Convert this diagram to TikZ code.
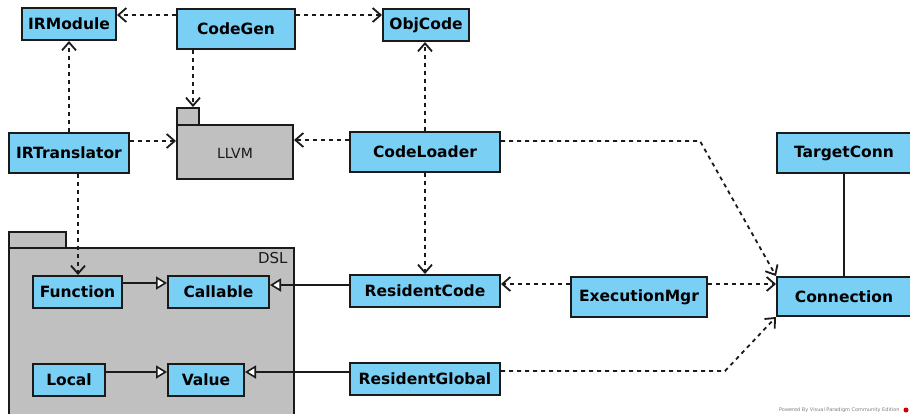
\documentclass[tikz,border=0pt]{standalone}
\usepackage{fontspec}
\setmainfont{DejaVu Sans}
\usetikzlibrary{arrows.meta}
\definecolor{cls}{RGB}{122,207,245}
\definecolor{pkg}{RGB}{192,192,192}
\definecolor{ink}{RGB}{26,26,26}
\tikzset{
  cbox/.style={draw=ink, line width=2pt, fill=cls, inner sep=0pt,
    font=\fontsize{15.5}{18}\selectfont\bfseries, text=black},
  pkgshape/.style={draw=ink, line width=2pt, fill=pkg, inner sep=0pt},
  dep/.style={draw=ink, line width=1.8pt, dash pattern=on 4pt off 4pt,
    -{Straight Barb[length=8pt,width=14pt,line width=1.8pt]}},
  gen/.style={draw=ink, line width=1.8pt,
    -{Triangle[open,fill=white,length=11pt,width=13pt,line width=1.6pt]}},
  assoc/.style={draw=ink, line width=1.8pt}
}
\begin{document}
\begin{tikzpicture}[x=1pt,y=-1pt]
\useasboundingbox[fill=white] (0,0) rectangle (910,413);
% packages
\node[pkgshape, minimum width=22pt, minimum height=17pt] (llvmtab) at (188,116.5) {};
\node[pkgshape, minimum width=116pt, minimum height=54pt] (llvm) at (235,152) {};
\node[font=\fontsize{14}{16}\selectfont, text=ink] (llvmlbl) at (235,153) {LLVM};
\node[pkgshape, minimum width=57pt, minimum height=16pt] (dsltab) at (37.5,240) {};
\node[pkgshape, minimum width=285pt, minimum height=170pt] (dsl) at (151.5,333) {};
\node[font=\fontsize{15}{17}\selectfont, text=ink, anchor=north east] (dsllbl) at (291,249) {DSL};
% classes
\node[cbox, minimum width=94pt, minimum height=32pt] (irm) at (69,24) {IRModule};
\node[cbox, minimum width=118pt, minimum height=40pt] (cg) at (236,29) {CodeGen};
\node[cbox, minimum width=86pt, minimum height=32pt] (obj) at (426,25) {ObjCode};
\node[cbox, minimum width=120pt, minimum height=40pt] (irt) at (69,153) {IRTranslator};
\node[cbox, minimum width=150pt, minimum height=40pt] (cl) at (425,152) {CodeLoader};
\node[cbox, minimum width=134pt, minimum height=40pt] (tc) at (844,153) {TargetConn};
\node[cbox, minimum width=134pt, minimum height=39pt] (conn) at (844,296.5) {Connection};
\node[cbox, minimum width=136pt, minimum height=40pt] (em) at (639,297) {ExecutionMgr};
\node[cbox, minimum width=150pt, minimum height=32pt] (rc) at (425,291) {ResidentCode};
\node[cbox, minimum width=150pt, minimum height=32pt] (rg) at (425,379) {ResidentGlobal};
\node[cbox, minimum width=89pt, minimum height=32pt] (fn) at (77.5,292) {Function};
\node[cbox, minimum width=101pt, minimum height=32pt] (call) at (218.5,292) {Callable};
\node[cbox, minimum width=72pt, minimum height=32pt] (loc) at (69,380) {Local};
\node[cbox, minimum width=76pt, minimum height=32pt] (val) at (206,380) {Value};
% bend points
\coordinate (b1) at (700,141);
\coordinate (b2) at (725,371);
% dependencies
\draw[dep] ([yshift=14pt]cg.west) -- ([yshift=9pt]irm.east);
\draw[dep] ([yshift=14pt]cg.east) -- ([yshift=10pt]obj.west);
\draw[dep] ([xshift=-43pt]cg.south) -- ([xshift=5pt]llvmtab.north);
\draw[dep] (irt.north) -- (irm.south);
\draw[dep] ([yshift=12pt]irt.east) -- ([yshift=11pt]llvm.west);
\draw[dep] ([yshift=12pt]cl.west) -- ([yshift=12pt]llvm.east);
\draw[dep] (cl.north) -- ([xshift=-1pt]obj.south);
\draw[dep] (cl.south) -- (rc.north);
\draw[dep] ([xshift=9pt]irt.south) -- ([xshift=0.5pt]fn.north);
\draw[dep] ([yshift=11pt]cl.east) -- (b1) -- (conn.north west);
\draw[dep] ([yshift=13pt]em.west) -- ([yshift=7pt]rc.east);
\draw[dep] ([yshift=13pt]em.east) -- ([yshift=12.5pt]conn.west);
\draw[dep] ([yshift=8pt]rg.east) -- (b2) -- (conn.south west);
% association
\draw[assoc] (tc.south) -- (conn.north);
% generalizations
\draw[gen] ([yshift=9pt]fn.east) -- ([yshift=9pt]call.west);
\draw[gen] ([yshift=6pt]rc.west) -- ([yshift=7pt]call.east);
\draw[gen] ([yshift=8pt]loc.east) -- ([yshift=8pt]val.west);
\draw[gen] ([yshift=7pt]rg.west) -- ([yshift=8pt]val.east);
% watermark
\node[font=\fontsize{5}{6}\selectfont, text=gray, anchor=east] (wm) at (903,410) {Powered By Visual Paradigm Community Edition};
\fill[red!80!black] (906,410) circle (2.5pt);
\end{tikzpicture}
\end{document}
